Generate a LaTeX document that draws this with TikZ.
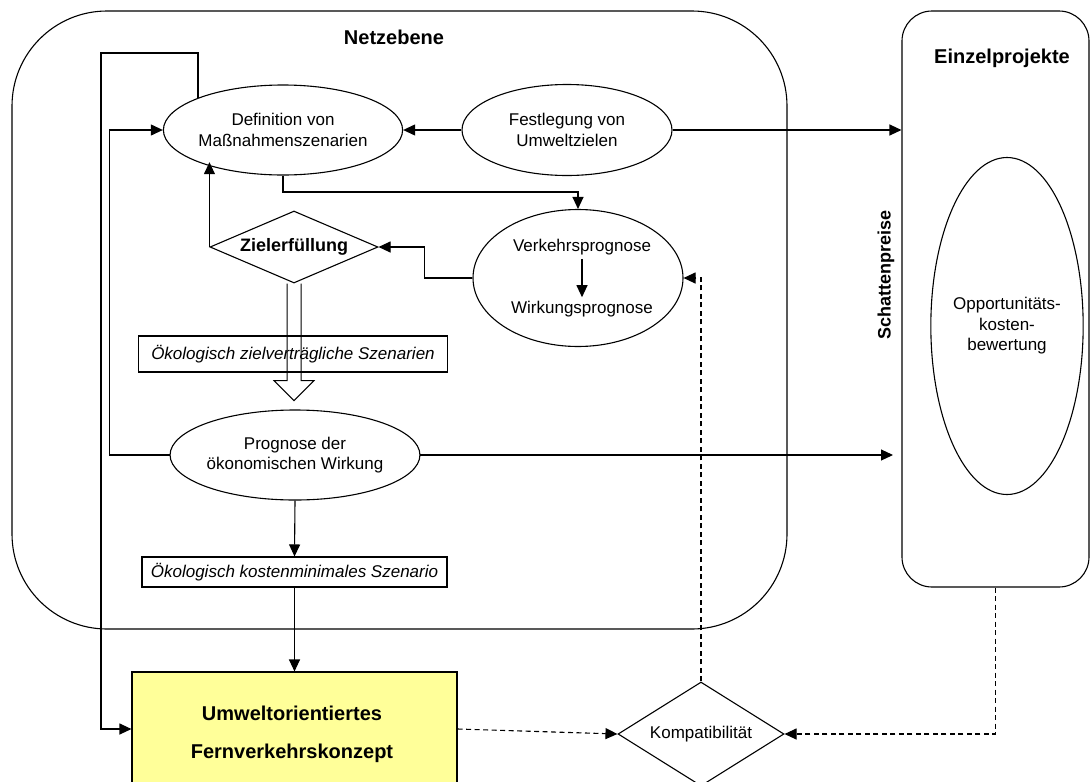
\documentclass[tikz,border=0pt]{standalone}
\usepackage{fontspec}
\setmainfont{Liberation Sans}
\usetikzlibrary{shapes.geometric,arrows.meta,calc}

\begin{document}
\begin{tikzpicture}[x=1pt,y=-1pt,line width=1.1pt,
  txt/.style={font=\fontsize{17}{20.5}\selectfont},
  ttl/.style={font=\bfseries\fontsize{20}{24}\selectfont},
  oval/.style={ellipse,draw,inner sep=0pt,align=center,txt},
  panel/.style={draw,inner sep=0pt},
  itbox/.style={draw,inner sep=0pt,font=\itshape\fontsize{17}{20.5}\selectfont},
  arr/.style={-{Triangle[length=12pt,width=11pt]}},
  dsh/.style={dash pattern=on 5pt off 3.5pt},
]
\clip (0,0) rectangle (1090,782);
\fill[white] (0,0) rectangle (1090,782);

% large panels
\node[panel,rounded corners=95pt,minimum width=775pt,minimum height=618pt] (netz) at (399.5,320) {};
\node[ttl] (netzt) at (394,37) {Netzebene};
\node[panel,rounded corners=30pt,minimum width=187pt,minimum height=576pt] (ein) at (995.5,299) {};
\node[ttl] (eint) at (1002,58) {Einzelprojekte};
\node[font=\bfseries\fontsize{18}{22}\selectfont,rotate=90] (schatten) at (886,275) {Schattenpreise};
\node[oval,minimum width=146pt,minimum height=337pt] (opp) at (1007,326) {Opportunitäts-\\kosten-\\bewertung};

% process nodes
\node[oval,minimum width=210pt,minimum height=90pt] (def) at (283,130) {Definition von\\Maßnahmenszenarien};
\node[oval,minimum width=210pt,minimum height=91pt] (fest) at (567,130) {Festlegung von\\Umweltzielen};
\node[ellipse,draw,inner sep=0pt,minimum width=210pt,minimum height=137pt] (verk) at (578,278) {};
\node[txt] (vtxt) at (582,247) {Verkehrsprognose};
\node[txt] (wtxt) at (582,309) {Wirkungsprognose};
\node[diamond,draw,inner sep=0pt,aspect=2.33,minimum width=168pt,minimum height=72pt,
      font=\bfseries\fontsize{18}{22}\selectfont] (ziel) at (294,247) {Zielerfüllung};
\node[itbox,minimum width=309pt,minimum height=36pt] (zvs) at (293,354) {Ökologisch zielverträgliche Szenarien};
\node[oval,minimum width=209pt,minimum height=90pt] (prog) at (295,455) {Prognose der\\ökonomischen Wirkung};
\node[itbox,minimum width=305pt,minimum height=30pt] (kost) at (294.5,572) {Ökologisch kostenminimales Szenario};
\node[draw,fill={rgb,255:red,255;green,255;blue,153},minimum width=325pt,minimum height=114pt] (fern) at (294.5,729) {};
\node[align=center,font=\bfseries\fontsize{20}{38}\selectfont] (ferntxt) at (292,734)
      {Umweltorientiertes\\Fernverkehrskonzept};
\node[diamond,draw,inner sep=0pt,aspect=1.6,minimum width=166pt,minimum height=104pt,txt] (komp) at (701,734) {Kompatibilität};

% loop coordinates
\coordinate (lt) at (101,53);
\coordinate (pe) at (893,455);

% connectors
\draw[arr] (fest) -- (def);
\draw[arr] (fest.east) -- (fest.east -| ein.west);
\draw[arr] (def.south) |- ($(verk.north)+(0,-17)$) -- (verk.north);
\draw[arr] (vtxt.south) -- (wtxt.north);
\draw[arr] (verk.west) -- ++(-48,0) |- (ziel.east);
\draw[arr] (ziel.west) -- (ziel.west |- def.south west);
\draw[arr] (def.north west) |- (lt) |- (fern.west);
\draw[arr] (prog.west) -- ++(-60,0) |- (def.west);
\draw[arr] (prog.east) -- (pe);
\draw[arr] (prog.south) -- (kost.north);
\draw[arr] (kost.south) -- (fern.north);

% hollow block arrow from the decision down to the economic forecast
\draw[line width=1pt] (ziel.south) ++(-7,0) -- ++(0,97) -- ++(-13,0) -- ++(20,20)
      -- ++(20,-20) -- ++(-13,0) -- ++(0,-97);

% dashed feedback
\draw[arr,dsh] (fern.east) -- (komp.west);
\draw[arr,dsh] (komp.north) |- (verk.east);
\draw[arr,dsh] (ein.south) |- (komp.east);
\end{tikzpicture}
\end{document}
